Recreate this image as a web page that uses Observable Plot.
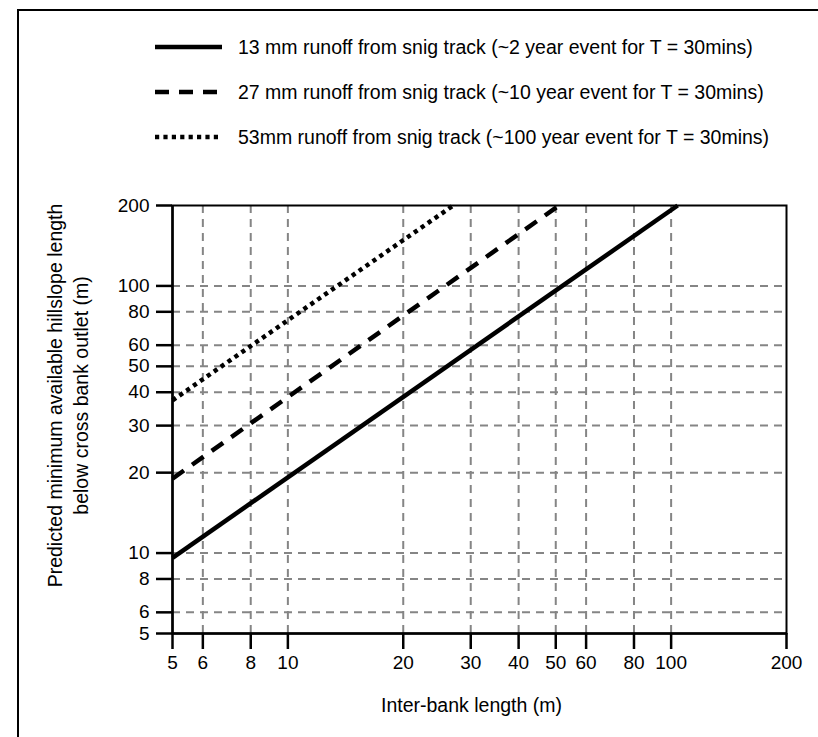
<!DOCTYPE html>
<html>
<head>
<meta charset="utf-8">
<script src="https://cdn.jsdelivr.net/npm/d3@7"></script>
<script src="https://cdn.jsdelivr.net/npm/@observablehq/plot@0.6"></script>
<style>
  html, body { margin: 0; padding: 0; background: #fff; }
  #wrap { position: relative; width: 818px; height: 737px; overflow: hidden; font-family: "Liberation Sans", Arial, sans-serif; background: #fff; }
  #outer { position: absolute; left: 17px; top: 9px; width: 900px; height: 900px; border-left: 2px solid #000; border-top: 2px solid #000; z-index: 5; pointer-events: none; }
  .leg { position: absolute; left: 155px; height: 30px; display: flex; align-items: center; font-size: 19.5px; color: #000; white-space: nowrap; }
  .leg svg { width: 68px; height: 10px; margin-right: 15px; }
  #chart { position: absolute; left: 0; top: 180px; }
  #chart svg { background: transparent !important; }
</style>
</head>
<body>
<div id="wrap">
  <div id="legend"></div>
  <div id="chart"></div>
  <div id="outer"></div>
</div>
<script>
// Series names
const seriesNames = [
  "13 mm runoff from snig track (~2 year event for T = 30mins)",
  "27 mm runoff from snig track (~10 year event for T = 30mins)",
  "53mm runoff from snig track (~100 year event for T = 30mins)"
];
// Line endpoints (straight lines on log-log axes)
const x13 = [5, 104];
const y13 = [9.6, 200];
const x27 = [5, 51];
const y27 = [19, 200];
const x53 = [5, 27];
const y53 = [37.3, 200];

// Ticks and grid values
const xTicks = [5, 6, 8, 10, 20, 30, 40, 50, 60, 80, 100, 200];
const yTicks = [5, 6, 8, 10, 20, 30, 40, 50, 60, 80, 100, 200];
const xGrid = [6, 8, 10, 20, 30, 40, 50, 60, 80, 100];
const yGrid = [6, 8, 10, 20, 30, 40, 50, 60, 80, 100];

const xLabel = "Inter-bank length (m)";
const yLabel = "Predicted minimum available hillslope length\nbelow cross bank outlet (m)";

const dashes = [null, "14,10", "4.2,4.2"];
const widths = [4.5, 4.5, 4.5];

const toRows = (xs, ys, s) => xs.map((x, i) => ({x, y: ys[i], s}));
const rows = [
  toRows(x13, y13, seriesNames[0]),
  toRows(x27, y27, seriesNames[1]),
  toRows(x53, y53, seriesNames[2])
];

// Legend (HTML above the SVG)
const legend = document.getElementById("legend");
const legTops = [32, 77, 122];
seriesNames.forEach((name, i) => {
  const d = document.createElement("div");
  d.className = "leg";
  d.style.top = legTops[i] + "px";
  const dash = dashes[i] ? ` stroke-dasharray="${dashes[i]}"` : "";
  d.innerHTML = `<svg viewBox="0 0 68 10"><line x1="0" y1="5" x2="67" y2="5" stroke="#000" stroke-width="4.5"${dash}/></svg><span>${name}</span>`;
  legend.appendChild(d);
});

const W = 818, H = 557;
const chart = Plot.plot({
  width: W,
  height: H,
  marginTop: 25,
  marginBottom: 104,
  marginLeft: 172,
  marginRight: 32,
  style: {fontFamily: "Liberation Sans, Arial, sans-serif", fontSize: "19px", color: "#000", background: "transparent", overflow: "visible"},
  x: {type: "log", domain: [5, 200]},
  y: {type: "log", domain: [5, 200]},
  marks: [
    Plot.gridX(xGrid, {stroke: "#858585", strokeOpacity: 1, strokeWidth: 2, strokeDasharray: "8,6"}),
    Plot.gridY(yGrid, {stroke: "#858585", strokeOpacity: 1, strokeWidth: 2, strokeDasharray: "8,6"}),
    ...rows.map((r, i) => Plot.line(r, {x: "x", y: "y", stroke: "#000", strokeWidth: widths[i], strokeDasharray: dashes[i] || undefined, strokeLinecap: "butt"})),
    Plot.frame({stroke: "#000", strokeWidth: 2}),
    Plot.ruleX([5], {stroke: "#000", strokeWidth: 2.5}),
    Plot.ruleY([5], {stroke: "#000", strokeWidth: 2.5}),
    Plot.axisX(xTicks, {tickSize: 16, strokeWidth: 2.5, tickFormat: () => "", label: null}),
    Plot.axisY(yTicks, {tickSize: 16, strokeWidth: 2.5, tickFormat: () => "", label: null}),
    Plot.text(xTicks, {x: d => d, frameAnchor: "bottom", dy: 35, fontSize: 19, text: d => String(d)}),
    Plot.text(yTicks, {y: d => d, frameAnchor: "left", dx: -23, textAnchor: "end", fontSize: 19, text: d => String(d)}),
    Plot.text([xLabel], {frameAnchor: "bottom", dx: -8, dy: 78, fontSize: 19.5, text: d => d}),
    Plot.text([yLabel], {frameAnchor: "left", dx: -106, dy: -24, rotate: -90, fontSize: 19.5, lineHeight: 1.33, textAnchor: "middle", lineAnchor: "middle", text: d => d})
  ]
});
document.getElementById("chart").appendChild(chart);
</script>
</body>
</html>
